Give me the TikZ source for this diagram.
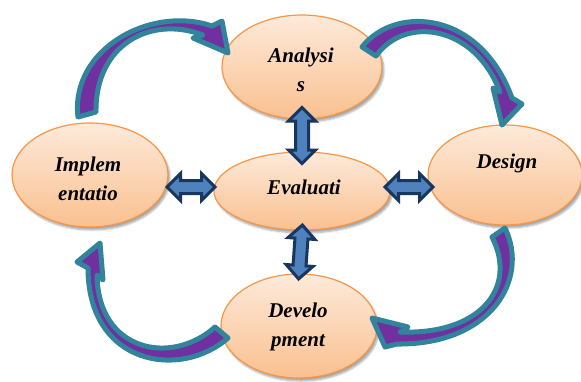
\documentclass[tikz,border=0pt]{standalone}
\usepackage{fontspec}
\setmainfont{Liberation Serif}
\usetikzlibrary{shapes.geometric,shapes.arrows,shadows.blur}
\definecolor{tealc}{HTML}{31849B}
\definecolor{purp}{HTML}{7030A0}
\definecolor{navy}{HTML}{17375E}
\definecolor{lblue}{HTML}{4F81BD}
\definecolor{eborder}{HTML}{F79646}
\definecolor{etop}{HTML}{FDEADA}
\definecolor{ebot}{HTML}{FAC090}
\begin{document}
\begin{tikzpicture}[x=1pt,y=-1pt,
 phase/.style={ellipse, draw=eborder, line width=1.2pt, top color=etop, bottom color=ebot, inner sep=0pt,
   blur shadow={shadow xshift=2pt, shadow yshift=-3pt, shadow blur steps=6, shadow opacity=35}},
 lbl/.style={font=\fontsize{21}{29}\selectfont\bfseries\itshape, align=center, inner sep=0pt},
 darr/.style={double arrow, draw=navy, fill=lblue, line width=3pt, inner xsep=0pt, inner ysep=5pt,
   double arrow head extend=7pt, sloped},
 curv/.style={draw=tealc, fill=purp, line width=5pt, line join=round}]
\useasboundingbox (0,0) rectangle (581,381);

% ellipses
\node[phase, minimum width=160pt, minimum height=104pt] (ana) at (302,67) {};
\node[phase, minimum width=156pt, minimum height=104pt] (imp) at (90,175) {};
\node[phase, minimum width=154pt, minimum height=100pt] (des) at (505,175) {};
\node[phase, minimum width=176pt, minimum height=78pt] (eva) at (302,191) {};
\node[phase, minimum width=156pt, minimum height=104pt] (dev) at (299,326) {};

% labels
\node[lbl] (anat) at (301,70) {Analysi\\s};
\node[lbl] (impt) at (88,179) {Implem\\entatio};
\node[lbl] (dest) at (507,163) {Design};
\node[lbl] (evat) at (304,187) {Evaluati};
\node[lbl] (devt) at (298,327) {Develo\\pment};

% double arrows
\path (ana.south) -- (eva.north) node[darr, midway, minimum height=56pt] (da1) {};
\path (eva.south) -- (dev.north) node[darr, midway, minimum height=54pt] (da2) {};
\coordinate (l1) at ([yshift=4pt]imp.east |- eva.west);
\coordinate (l2) at ([yshift=4pt]eva.west);
\path (l1) -- (l2) node[darr, midway, minimum height=48pt] (da3) {};
\coordinate (r1) at ([yshift=4pt]eva.east);
\coordinate (r2) at ([yshift=4pt]des.west |- eva.east);
\path (r1) -- (r2) node[darr, midway, minimum height=48pt] (da4) {};

% curved arrows
\draw[curv] (78,117) .. controls (70,50) and (150,5) .. (212,26) -- (222,21) -- (228,53) -- (193,38) -- (203,35)
  .. controls (150,15) and (95,45) .. (96,112) -- cycle;
\draw[curv] (362,47) .. controls (395,5) and (480,10) .. (512,98) -- (522,104) -- (502,125) -- (493,88) -- (500,92)
  .. controls (475,25) and (405,15) .. (376,56) -- cycle;
\draw[curv] (505,228) .. controls (530,280) and (490,345) .. (397,344) -- (385,347) -- (372,318) -- (408,327) -- (400,332)
  .. controls (480,335) and (518,288) .. (492,237) -- cycle;
\draw[curv] (228,338) .. controls (180,380) and (88,365) .. (88,268) -- (77,262) -- (100,243) -- (103,280) -- (97,275)
  .. controls (98,352) and (172,366) .. (215,327) -- cycle;
\end{tikzpicture}
\end{document}
